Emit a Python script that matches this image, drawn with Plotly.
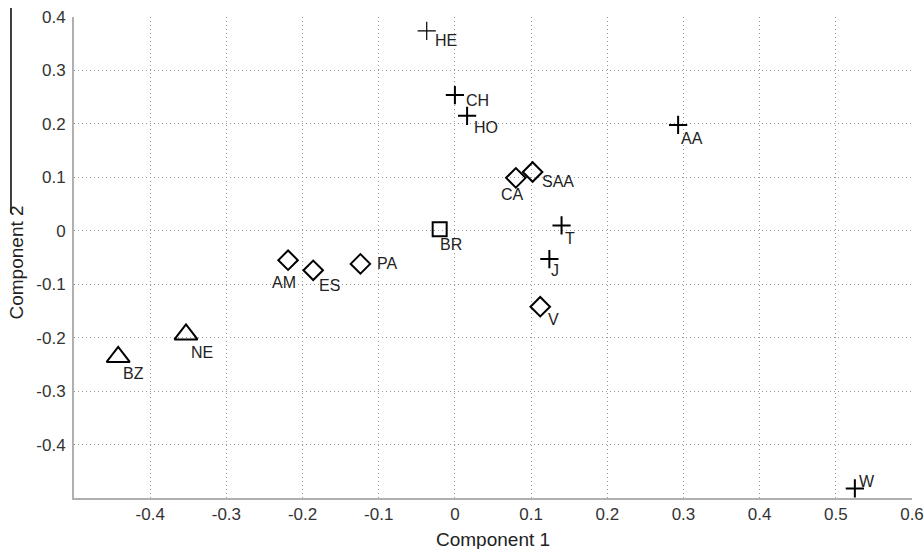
import plotly.graph_objects as go

labels = ["HE", "CH", "HO", "AA", "CA", "SAA", "BR", "T", "J", "V", "PA", "ES", "AM", "NE", "BZ", "W"]
comp1 = [-0.037, 0.000, 0.016, 0.293, 0.080, 0.102, -0.020, 0.140, 0.124, 0.112, -0.124, -0.186, -0.219, -0.353, -0.442, 0.525]
comp2 = [0.374, 0.254, 0.215, 0.198, 0.099, 0.110, 0.003, 0.010, -0.053, -0.142, -0.062, -0.074, -0.055, -0.194, -0.236, -0.482]
groups = ["plus", "plus", "plus", "plus", "diamond", "diamond", "square", "plus", "plus", "diamond",
          "diamond", "diamond", "diamond", "triangle", "triangle", "plus"]
# label offsets (pixels) from the marker centre: right, down
label_dx = [19, 23, 19, 14, -3, 25, 11, 8, 6, 13, 27, 16, -4, 16, 15, 12]
label_dy = [10, 5, 12, 14, 17, 10, 15, 13, 11, 13, 0, 15, 22, 18, 17, -7]

xticks = [-0.4, -0.3, -0.2, -0.1, 0, 0.1, 0.2, 0.3, 0.4, 0.5, 0.6]
yticks = [-0.4, -0.3, -0.2, -0.1, 0, 0.1, 0.2, 0.3, 0.4]

symbol_map = {"plus": "cross-thin-open", "diamond": "diamond-open", "square": "square-open",
              "triangle": "triangle-up-open"}
size_map = {"plus": 13, "diamond": 15, "square": 14, "triangle": 20}

FONT = "Liberation Sans, Arial, sans-serif"

fig = go.Figure()
for g in ["plus", "diamond", "square", "triangle"]:
    idx = [i for i, gg in enumerate(groups) if gg == g]
    widths = [1.2 if labels[i] == "HE" else 2 for i in idx]
    fig.add_trace(go.Scatter(
        x=[comp1[i] for i in idx],
        y=[comp2[i] for i in idx],
        mode="markers",
        marker=dict(symbol=symbol_map[g], size=size_map[g], color="black",
                    line=dict(color="black", width=widths)),
        showlegend=False,
        cliponaxis=False,
        hovertext=[labels[i] for i in idx],
    ))

for i, lab in enumerate(labels):
    fig.add_annotation(x=comp1[i], y=comp2[i], text=lab, showarrow=False,
                       xshift=label_dx[i], yshift=-label_dy[i],
                       font=dict(family=FONT, size=16, color="#222"))

fig.add_annotation(xref="paper", yref="paper", x=0.5, y=0.0, yshift=-41, yanchor="middle", xanchor="center",
                   text="Component 1", showarrow=False, font=dict(family=FONT, size=19, color="#222"))
fig.add_annotation(xref="paper", yref="paper", x=0.0, xshift=-57, y=0.4896, yanchor="middle", xanchor="center",
                   text="Component 2", textangle=-90, showarrow=False,
                   font=dict(family=FONT, size=19, color="#222"))

fig.add_shape(type="line", xref="paper", yref="paper", x0=-0.0752, x1=-0.0752, y0=0.5925, y1=1.0187,
              line=dict(color="black", width=1.5))

fig.update_layout(
    width=924, height=549,
    margin=dict(l=74, r=12, t=17, b=51, autoexpand=False),
    paper_bgcolor="white", plot_bgcolor="white",
    font=dict(family=FONT, size=17, color="#333"),
    xaxis=dict(range=[-0.5, 0.6], tickvals=xticks, ticktext=[f"{v:g}" for v in xticks],
               showgrid=True, gridcolor="#999", griddash="1px,3px", gridwidth=1,
               showline=True, linecolor="#b0b0b0", linewidth=2, zeroline=False, ticks="",
               automargin=False, tickfont=dict(size=17, color="#333")),
    yaxis=dict(range=[-0.5, 0.4], tickvals=yticks, ticktext=[f"{v:g}" for v in yticks],
               showgrid=True, gridcolor="#999", griddash="1px,3px", gridwidth=1,
               showline=True, linecolor="#b0b0b0", linewidth=2, zeroline=False, ticks="",
               automargin=False, tickfont=dict(size=17, color="#333"), ticklabelstandoff=3),
)

fig.write_html("out.html", config={"displayModeBar": False},
               post_script="document.body.style.margin='0';document.body.style.overflow='hidden';")
